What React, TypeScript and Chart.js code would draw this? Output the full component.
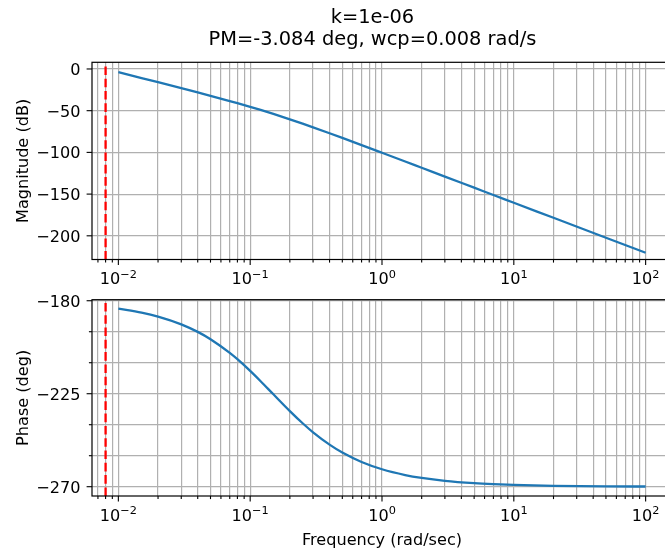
import React, { useEffect, useRef } from 'react';
import { Chart, registerables } from 'chart.js';

Chart.register(...registerables);

// ---- data ----
const freq = [0.01, 0.015, 0.02, 0.03, 0.04, 0.05, 0.07, 0.08, 0.1, 0.12, 0.15, 0.2, 0.25, 0.3, 0.4, 0.5, 0.7, 1, 1.5, 2, 3, 5, 7, 10, 20, 50, 100];
const magDb = [-3.8, -10.87, -15.9, -23.04, -28.17, -32.21, -38.46, -41.01, -45.41, -49.14, -53.88, -60.32, -65.54, -69.92, -77.03, -82.66, -91.24, -100.44, -110.95, -118.44, -128.98, -142.29, -151.05, -160.35, -178.41, -202.29, -220.35];
const phaseDeg = [-183.85, -185.77, -187.67, -191.42, -195.08, -198.61, -205.24, -208.31, -213.96, -218.94, -225.29, -233.4, -239.29, -243.67, -249.63, -253.46, -258.02, -261.55, -264.35, -265.75, -267.17, -268.3, -268.79, -269.15, -269.57, -269.83, -269.91];
const wcp = 0.008;

const titleLines = ['k=1e-06', 'PM=-3.084 deg, wcp=0.008 rad/s'];
const magLabel = 'Magnitude (dB)';
const phaseLabel = 'Phase (deg)';
const freqLabel = 'Frequency (rad/sec)';

const xMajorTicks = [0.01, 0.1, 1, 10, 100];
const xMajorExp = [-2, -1, 0, 1, 2];
const xMinorTicks = [0.007, 0.008, 0.009, 0.02, 0.03, 0.04, 0.05, 0.06, 0.07, 0.08, 0.09, 0.2, 0.3, 0.4, 0.5, 0.6, 0.7, 0.8, 0.9, 2, 3, 4, 5, 6, 7, 8, 9, 20, 30, 40, 50, 60, 70, 80, 90];
const magMajorTicks = [0, -50, -100, -150, -200];
const phaseMajorTicks = [-180, -225, -270];
const phaseMinorTicks = [-195, -210, -240, -255];

const xMin = 0.00631;
const xMax = 158.5;
const magMin = -228.4;
const magMax = 8;
const phaseMin = -274.5;
const phaseMax = -179.5;

// ---- styling ----
const FONT = '"DejaVu Sans", "Liberation Sans", sans-serif';
const FS = 16.1;
const FS_SUP = 11.3;
const FS_TITLE = 19.4;
const BLUE = '#1f77b4';
const GRID = '#b0b0b0';
const W = 680;

const fmtNum = (v: number) => (v < 0 ? '\u2212' + Math.abs(v) : String(v));

type AxOpts = {
  yMajor: number[];
  yMinor: number[];
  yTitle: string;
  yTitleX: number;
  xTitle?: string;
  xTitleY?: number;
  title?: string[];
};

function makePlugin(o: AxOpts) {
  return {
    id: 'mplAxes',
    afterDraw(chart: any) {
      const { ctx, chartArea: a, scales } = chart;
      const xs = scales.x;
      const ys = scales.y;
      ctx.save();
      // spines
      ctx.strokeStyle = '#000';
      ctx.lineWidth = 1.2;
      ctx.strokeRect(a.left, a.top, a.right - a.left, a.bottom - a.top);
      const tick = (x1: number, y1: number, x2: number, y2: number) => {
        ctx.beginPath();
        ctx.moveTo(x1, y1);
        ctx.lineTo(x2, y2);
        ctx.stroke();
      };
      ctx.lineWidth = 1.1;
      xMajorTicks.forEach((v) => {
        const p = xs.getPixelForValue(v);
        tick(p, a.bottom, p, a.bottom + 5.4);
      });
      xMinorTicks.forEach((v) => {
        const p = xs.getPixelForValue(v);
        if (p >= a.left - 0.5 && p <= a.right + 0.5) tick(p, a.bottom, p, a.bottom + 3.1);
      });
      o.yMajor.forEach((v) => {
        const p = ys.getPixelForValue(v);
        tick(a.left, p, a.left - 5.4, p);
      });
      o.yMinor.forEach((v) => {
        const p = ys.getPixelForValue(v);
        tick(a.left, p, a.left - 3.1, p);
      });
      // y tick labels
      ctx.fillStyle = '#000';
      ctx.font = `${FS}px ${FONT}`;
      ctx.textAlign = 'right';
      ctx.textBaseline = 'alphabetic';
      o.yMajor.forEach((v) => {
        const p = ys.getPixelForValue(v);
        ctx.fillText(fmtNum(v), a.left - 11.5, p + FS * 0.365);
      });
      // x tick labels with superscripts
      ctx.textAlign = 'left';
      xMajorTicks.forEach((v, i) => {
        const p = xs.getPixelForValue(v);
        const e = xMajorExp[i];
        const sup = e < 0 ? '\u2212' + Math.abs(e) : String(e);
        ctx.font = `${FS}px ${FONT}`;
        const wb = ctx.measureText('10').width;
        ctx.font = `${FS_SUP}px ${FONT}`;
        const ws = ctx.measureText(sup).width;
        const start = p - (wb + ws) / 2;
        const base = a.bottom + 24.8;
        ctx.font = `${FS}px ${FONT}`;
        ctx.fillText('10', start, base);
        ctx.font = `${FS_SUP}px ${FONT}`;
        ctx.fillText(sup, start + wb, base - 6.8);
      });
      // y title
      ctx.font = `${FS}px ${FONT}`;
      ctx.textAlign = 'center';
      ctx.save();
      ctx.translate(o.yTitleX, (a.top + a.bottom) / 2);
      ctx.rotate(-Math.PI / 2);
      ctx.fillText(o.yTitle, 0, 0);
      ctx.restore();
      // x title
      if (o.xTitle) {
        ctx.fillText(o.xTitle, (a.left + a.right) / 2, o.xTitleY as number);
      }
      // suptitle
      if (o.title) {
        ctx.font = `${FS_TITLE}px ${FONT}`;
        ctx.fillText(o.title[0], 372.5, 22.5);
        ctx.fillText(o.title[1], 372.5, 44.8);
      }
      ctx.restore();
    },
  };
}

function xScale(height: number) {
  return {
    type: 'logarithmic',
    min: xMin,
    max: xMax,
    ticks: { display: false },
    border: { display: false },
    grid: { color: GRID, lineWidth: 1.2, drawTicks: false },
    afterBuildTicks: (s: any) => {
      s.ticks = [...xMinorTicks, ...xMajorTicks]
        .filter((v) => v >= xMin && v <= xMax)
        .sort((p, q) => p - q)
        .map((v) => ({ value: v }));
    },
    afterFit: (s: any) => {
      s.height = height;
    },
  };
}

function yScale(min: number, max: number, ticks: number[]) {
  return {
    type: 'linear',
    min,
    max,
    ticks: { display: false },
    border: { display: false },
    grid: { color: GRID, lineWidth: 1.2, drawTicks: false },
    afterBuildTicks: (s: any) => {
      s.ticks = [...ticks].sort((p, q) => p - q).map((v) => ({ value: v }));
    },
    afterFit: (s: any) => {
      s.width = 92;
    },
  };
}

export default function App() {
  const topRef = useRef<HTMLCanvasElement | null>(null);
  const botRef = useRef<HTMLCanvasElement | null>(null);

  useEffect(() => {
    document.body.style.margin = '0';
    document.body.style.overflow = 'hidden';
    const magPts = freq.map((f, i) => ({ x: f, y: magDb[i] }));
    const phPts = freq.map((f, i) => ({ x: f, y: phaseDeg[i] }));

    const top = new Chart(topRef.current as HTMLCanvasElement, {
      type: 'line',
      data: {
        datasets: [
          {
            data: [{ x: wcp, y: magMin }, { x: wcp, y: magMax }],
            borderColor: '#ff0000',
            borderWidth: 2.3,
            borderDash: [8.6, 3.7],
            pointRadius: 0,
          },
          {
            data: magPts,
            borderColor: BLUE,
            borderWidth: 2.3,
            pointRadius: 0,
            cubicInterpolationMode: 'monotone',
          },
        ],
      },
      options: {
        animation: false,
        responsive: false,
        devicePixelRatio: 1,
        parsing: false,
        layout: { padding: { left: 0, right: 8, top: 62.3, bottom: 0 } },
        plugins: { legend: { display: false }, tooltip: { enabled: false }, title: { display: false } },
        scales: {
          x: xScale(290 - 259.5),
          y: yScale(magMin, magMax, magMajorTicks),
        },
      } as any,
      plugins: [
        makePlugin({
          yMajor: magMajorTicks,
          yMinor: [],
          yTitle: magLabel,
          yTitleX: 27.5,
          title: titleLines,
        }),
      ],
    });

    const bot = new Chart(botRef.current as HTMLCanvasElement, {
      type: 'line',
      data: {
        datasets: [
          {
            data: [{ x: wcp, y: phaseMin }, { x: wcp, y: phaseMax }],
            borderColor: '#ff0000',
            borderWidth: 2.3,
            borderDash: [8.6, 3.7],
            pointRadius: 0,
          },
          {
            data: phPts,
            borderColor: BLUE,
            borderWidth: 2.3,
            pointRadius: 0,
            cubicInterpolationMode: 'monotone',
          },
        ],
      },
      options: {
        animation: false,
        responsive: false,
        devicePixelRatio: 1,
        parsing: false,
        layout: { padding: { left: 0, right: 8, top: 9.7, bottom: 0 } },
        plugins: { legend: { display: false }, tooltip: { enabled: false }, title: { display: false } },
        scales: {
          x: xScale(260 - 206),
          y: yScale(phaseMin, phaseMax, [...phaseMajorTicks, ...phaseMinorTicks]),
        },
      } as any,
      plugins: [
        makePlugin({
          yMajor: phaseMajorTicks,
          yMinor: phaseMinorTicks,
          yTitle: phaseLabel,
          yTitleX: 27.5,
          xTitle: freqLabel,
          xTitleY: 544.5 - 290,
        }),
      ],
    });

    return () => {
      top.destroy();
      bot.destroy();
    };
  }, []);

  return (
    <div
      style={{
        position: 'fixed',
        left: 0,
        top: 0,
        width: 665,
        height: 550,
        overflow: 'hidden',
        background: '#fff',
      }}
    >
      <canvas ref={topRef} width={W} height={290} style={{ position: 'absolute', left: 0, top: 0, width: W, height: 290 }} />
      <canvas ref={botRef} width={W} height={260} style={{ position: 'absolute', left: 0, top: 290, width: W, height: 260 }} />
    </div>
  );
}
